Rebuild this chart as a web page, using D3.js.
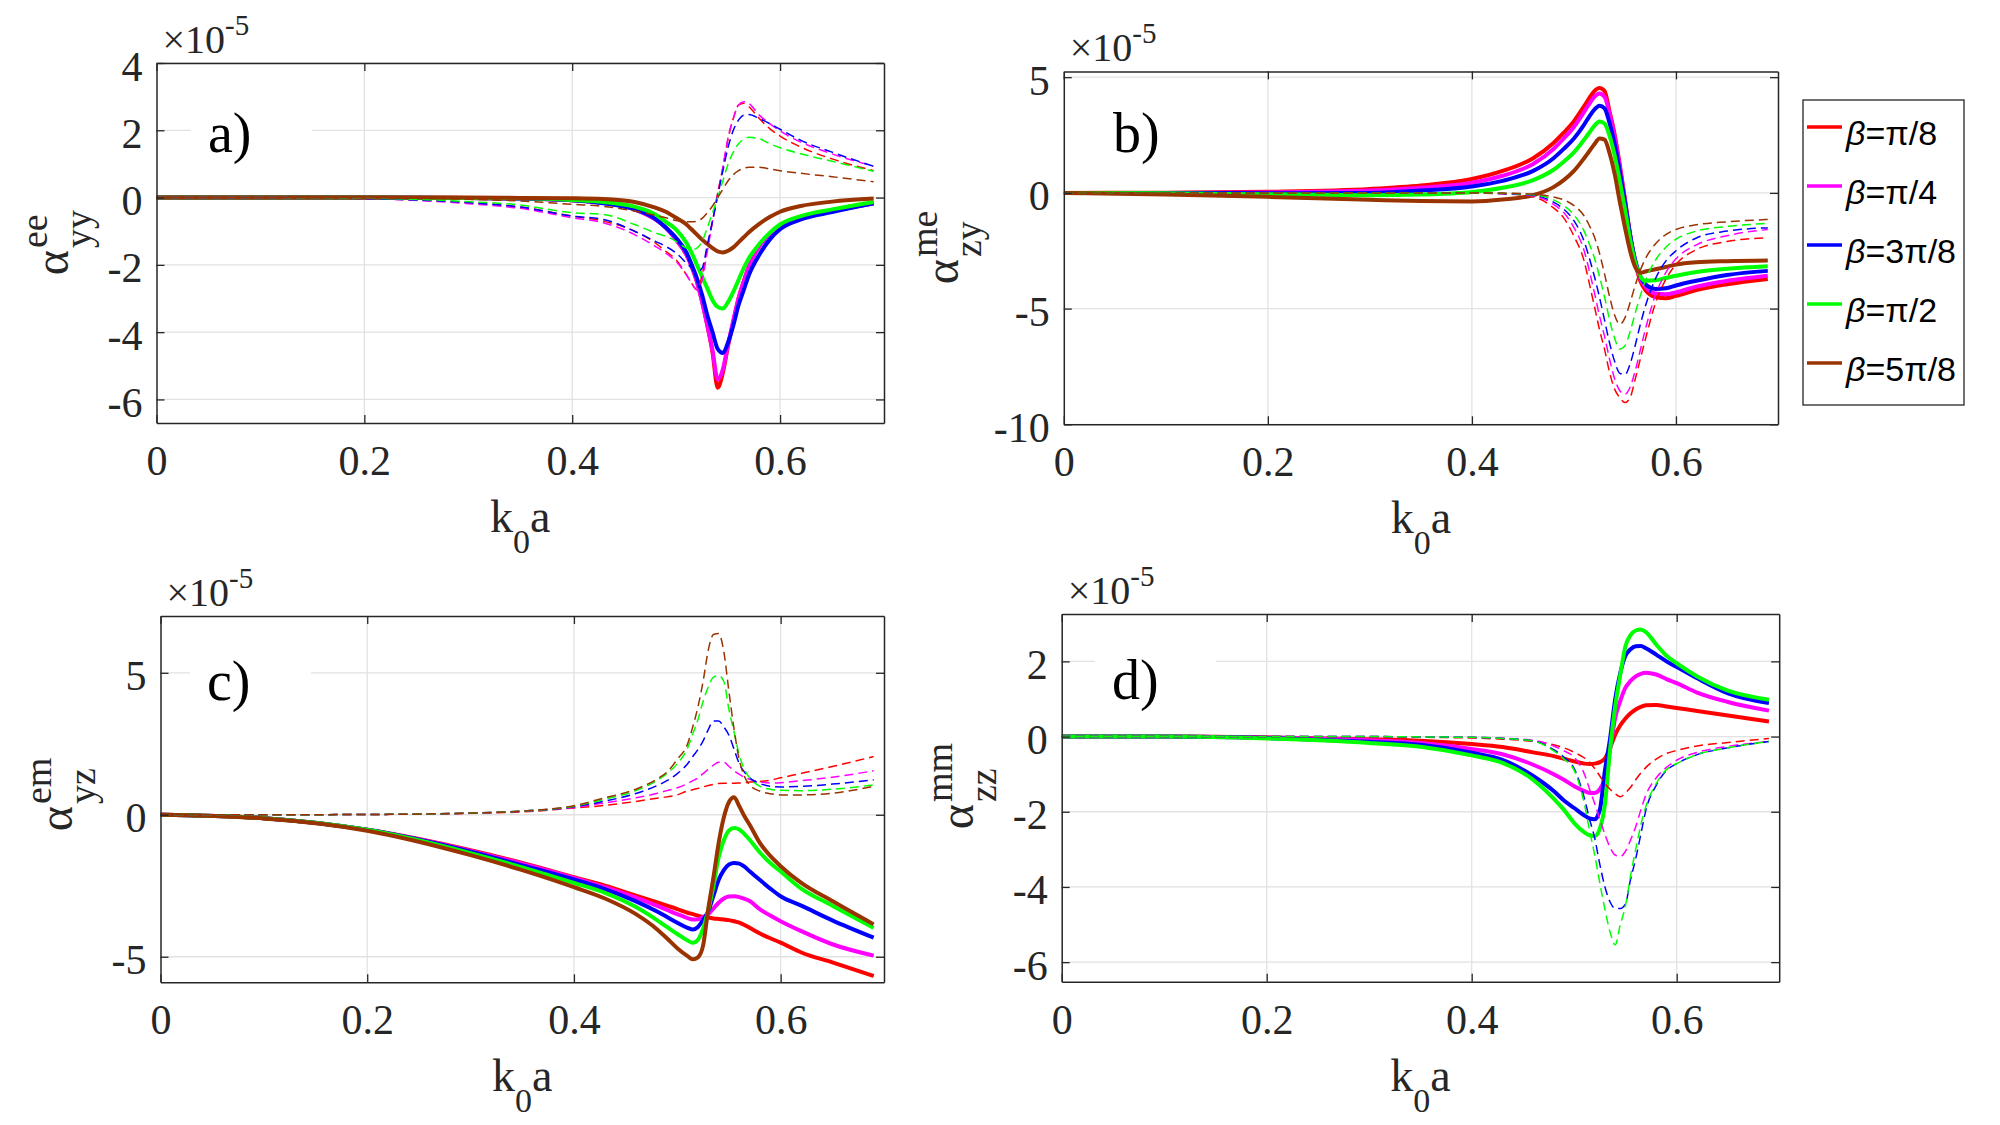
<!DOCTYPE html>
<html>
<head>
<meta charset="utf-8">
<script src="https://cdn.jsdelivr.net/npm/d3@7"></script>
<style>
  body { margin: 0; background: #fff; }
  svg { display: block; }
</style>
</head>
<body>
<div id="chart"></div>
<script>
// k0a sample points, shared by all four panels
const kx = [0, 0.1, 0.2, 0.3, 0.35, 0.4, 0.43, 0.46, 0.48, 0.49,
            0.5, 0.51, 0.515, 0.52, 0.525, 0.53, 0.535, 0.54, 0.545, 0.55,
            0.555, 0.56, 0.565, 0.57, 0.58, 0.59, 0.6, 0.62, 0.65, 0.69];

const betaLabels = ["π/8", "π/4", "3π/8", "π/2", "5π/8"];
const betaColors = ["#ff0000", "#ff00ff", "#0000ff", "#00ff00", "#993300"];

const xTicks = [0, 0.2, 0.4, 0.6];
const xTickLabels = ["0", "0.2", "0.4", "0.6"];
const yTicksA = [-6, -4, -2, 0, 2, 4];
const yTicksB = [-10, -5, 0, 5];
const yTicksC = [-5, 0, 5];
const yTicksD = [-6, -4, -2, 0, 2];

// a) alpha_yy^ee  (x1e-5), solid = real, dashed = imag; order pi/8 .. 5pi/8
const eeSolid = [
  [0, 0, 0, -0.01, -0.03, -0.08, -0.16, -0.35, -0.65, -0.89, -1.25, -1.7, -2.05, -2.5, -3.1, -3.8, -4.6, -5.65, -5.2, -4.4, -3.7, -3.0, -2.5, -2.05, -1.45, -1.1, -0.89, -0.62, -0.4, -0.17],
  [0, 0, 0, -0.01, -0.03, -0.08, -0.16, -0.35, -0.65, -0.89, -1.25, -1.7, -2.05, -2.5, -3.1, -3.8, -4.55, -5.4, -5.1, -4.35, -3.65, -3.0, -2.5, -2.05, -1.45, -1.1, -0.9, -0.63, -0.41, -0.18],
  [0, 0, 0, -0.01, -0.03, -0.08, -0.17, -0.35, -0.63, -0.89, -1.2, -1.64, -2.0, -2.4, -2.9, -3.5, -4.0, -4.5, -4.62, -4.3, -3.8, -3.2, -2.75, -2.3, -1.7, -1.25, -0.94, -0.65, -0.43, -0.17],
  [0, 0, 0, -0.01, -0.02, -0.07, -0.13, -0.27, -0.5, -0.72, -0.95, -1.35, -1.65, -2.0, -2.35, -2.7, -3.05, -3.25, -3.3, -3.1, -2.8, -2.45, -2.1, -1.8, -1.38, -1.05, -0.8, -0.55, -0.35, -0.13],
  [0, 0, 0, 0, -0.01, -0.02, -0.04, -0.13, -0.3, -0.42, -0.6, -0.8, -0.95, -1.1, -1.25, -1.38, -1.5, -1.6, -1.63, -1.58, -1.48, -1.33, -1.18, -1.03, -0.78, -0.58, -0.42, -0.25, -0.12, -0.03]
];
const eeDashed = [
  [0, 0, -0.03, -0.15, -0.28, -0.55, -0.7, -1.0, -1.35, -1.6, -1.85, -2.3, -2.55, -2.74, -2.3, -1.5, -0.7, 0.15, 0.9, 1.75, 2.35, 2.75, 2.8, 2.7, 2.35, 2.05, 1.83, 1.5, 1.15, 0.8],
  [0, 0, -0.03, -0.18, -0.32, -0.6, -0.75, -1.1, -1.45, -1.65, -1.9, -2.3, -2.55, -2.74, -2.45, -1.6, -0.7, 0.1, 0.9, 1.8, 2.35, 2.75, 2.85, 2.8, 2.45, 2.2, 1.98, 1.65, 1.3, 0.93],
  [0, 0, -0.03, -0.15, -0.28, -0.55, -0.65, -1.0, -1.3, -1.45, -1.65, -1.95, -2.1, -2.2, -2.1, -1.4, -0.7, 0.05, 0.8, 1.5, 2.0, 2.3, 2.45, 2.47, 2.35, 2.2, 2.03, 1.7, 1.35, 0.93],
  [0, 0, -0.02, -0.12, -0.22, -0.45, -0.5, -0.8, -1.05, -1.15, -1.3, -1.5, -1.55, -1.5, -1.3, -0.9, -0.45, 0.0, 0.5, 1.0, 1.35, 1.6, 1.73, 1.79, 1.75, 1.6, 1.48, 1.3, 1.08, 0.78],
  [0, 0, -0.01, -0.05, -0.1, -0.2, -0.26, -0.4, -0.53, -0.6, -0.68, -0.72, -0.72, -0.7, -0.62, -0.45, -0.25, 0.0, 0.25, 0.5, 0.68, 0.8, 0.87, 0.9, 0.9, 0.85, 0.8, 0.72, 0.62, 0.47]
];

// b) alpha_zy^me
const meSolid = [
  [0, 0.01, 0.05, 0.17, 0.32, 0.6, 0.95, 1.5, 2.16, 2.6, 3.1, 3.75, 4.1, 4.4, 4.53, 4.4, 3.5, 2.5, 1.2, -0.3, -1.8, -3.0, -3.8, -4.2, -4.5, -4.55, -4.45, -4.2, -3.95, -3.72],
  [0, 0, 0.02, 0.1, 0.22, 0.44, 0.74, 1.25, 1.9, 2.35, 2.85, 3.5, 3.85, 4.15, 4.3, 4.15, 3.4, 2.4, 1.1, -0.3, -1.8, -2.95, -3.7, -4.05, -4.35, -4.38, -4.3, -4.05, -3.8, -3.58],
  [0, 0, -0.02, 0, 0.1, 0.28, 0.52, 0.95, 1.5, 1.9, 2.35, 2.95, 3.3, 3.6, 3.77, 3.65, 3.0, 2.1, 0.9, -0.4, -1.8, -2.9, -3.6, -3.95, -4.15, -4.12, -4.0, -3.8, -3.55, -3.37],
  [0, -0.02, -0.06, -0.1, -0.07, 0.04, 0.22, 0.55, 1.0, 1.35, 1.75, 2.3, 2.6, 2.9, 3.09, 3.0, 2.45, 1.6, 0.5, -0.7, -2.0, -3.0, -3.6, -3.8, -3.78, -3.68, -3.58, -3.42, -3.28, -3.17],
  [0, -0.07, -0.17, -0.3, -0.35, -0.37, -0.29, -0.1, 0.25, 0.55, 0.95, 1.5, 1.8, 2.1, 2.35, 2.3, 1.7, 0.8, -0.4, -1.5, -2.5, -3.2, -3.45, -3.4, -3.3, -3.2, -3.1, -3.0, -2.95, -2.92]
];
const meDashed = [
  [0, 0, 0, 0, 0, -0.01, -0.04, -0.17, -0.65, -1.08, -1.87, -2.95, -3.9, -4.89, -5.9, -6.76, -7.77, -8.49, -8.85, -9.06, -8.85, -8.06, -7.19, -6.33, -4.75, -3.74, -3.09, -2.45, -2.1, -1.94],
  [0, 0, 0, 0, 0, -0.01, -0.03, -0.13, -0.5, -0.85, -1.5, -2.5, -3.35, -4.3, -5.3, -6.2, -7.2, -8.05, -8.55, -8.7, -8.4, -7.7, -6.8, -5.9, -4.4, -3.45, -2.85, -2.25, -1.85, -1.58],
  [0, 0, 0, 0, 0, -0.01, -0.03, -0.1, -0.4, -0.7, -1.2, -2.1, -2.8, -3.6, -4.5, -5.5, -6.5, -7.3, -7.8, -7.85, -7.4, -6.6, -5.7, -4.9, -3.7, -2.95, -2.5, -1.95, -1.65, -1.51],
  [0, 0, 0, 0, 0, -0.01, -0.02, -0.08, -0.3, -0.55, -0.95, -1.65, -2.2, -2.8, -3.6, -4.5, -5.5, -6.3, -6.75, -6.6, -6.0, -5.2, -4.45, -3.8, -2.9, -2.35, -2.0, -1.65, -1.45, -1.32],
  [0, 0, 0, 0, 0, 0, -0.01, -0.05, -0.18, -0.3, -0.55, -1.0, -1.4, -1.9, -2.6, -3.5, -4.5, -5.3, -5.68, -5.4, -4.75, -4.0, -3.35, -2.85, -2.2, -1.8, -1.58, -1.38, -1.25, -1.15]
];

// c) alpha_yz^em
const emSolid = [
  [0, -0.12, -0.53, -1.25, -1.7, -2.2, -2.5, -2.85, -3.08, -3.2, -3.32, -3.45, -3.5, -3.55, -3.6, -3.62, -3.65, -3.67, -3.69, -3.71, -3.75, -3.8, -3.88, -3.98, -4.18, -4.35, -4.5, -4.85, -5.2, -5.68],
  [0, -0.12, -0.53, -1.27, -1.72, -2.22, -2.55, -2.92, -3.2, -3.35, -3.5, -3.64, -3.69, -3.68, -3.6, -3.5, -3.3, -3.1, -2.95, -2.88, -2.87, -2.9, -2.96, -3.04, -3.33, -3.55, -3.75, -4.1, -4.56, -4.96],
  [0, -0.12, -0.53, -1.3, -1.78, -2.28, -2.62, -3.05, -3.4, -3.6, -3.8, -3.98, -4.04, -3.95, -3.7, -3.4, -2.85, -2.3, -1.95, -1.75, -1.7, -1.72, -1.83, -1.99, -2.3, -2.6, -2.87, -3.2, -3.72, -4.33],
  [0, -0.12, -0.53, -1.35, -1.85, -2.4, -2.75, -3.25, -3.7, -3.95, -4.2, -4.43, -4.51, -4.4, -4.0, -3.35, -2.5, -1.5, -0.9, -0.55, -0.47, -0.52, -0.68, -0.88, -1.33, -1.7, -2.0, -2.6, -3.2, -3.98],
  [0, -0.13, -0.56, -1.42, -1.95, -2.55, -2.95, -3.5, -4.02, -4.35, -4.7, -4.98, -5.09, -5.02, -4.6, -3.3, -2.2, -1.0, -0.1, 0.45, 0.62, 0.3, -0.05, -0.35, -1.0, -1.45, -1.81, -2.4, -3.04, -3.86]
];
const emDashed = [
  [0, 0, 0.01, 0.05, 0.1, 0.24, 0.33, 0.47, 0.58, 0.63, 0.7, 0.84, 0.88, 0.93, 0.98, 1.03, 1.07, 1.1, 1.11, 1.11, 1.11, 1.12, 1.13, 1.15, 1.17, 1.22, 1.3, 1.46, 1.7, 2.05],
  [0, 0, 0.01, 0.06, 0.12, 0.26, 0.42, 0.6, 0.75, 0.85, 0.95, 1.1, 1.2, 1.3, 1.45, 1.6, 1.75, 1.85, 1.85, 1.7, 1.55, 1.42, 1.32, 1.25, 1.16, 1.12, 1.13, 1.2, 1.32, 1.55],
  [0, 0, 0.01, 0.06, 0.13, 0.28, 0.48, 0.75, 1.02, 1.2, 1.45, 1.8, 2.05, 2.3, 2.6, 3.0, 3.3, 3.3, 3.1, 2.8, 2.3, 1.8, 1.5, 1.3, 1.1, 1.0, 0.98, 1.0, 1.08, 1.23],
  [0, 0, 0.01, 0.06, 0.13, 0.3, 0.55, 0.85, 1.2, 1.45, 1.8, 2.35, 2.85, 3.35, 4.0, 4.5, 4.85, 4.9, 4.7, 3.7, 2.9, 2.1, 1.6, 1.3, 1.0, 0.9, 0.86, 0.85, 0.9, 1.05],
  [0, 0, 0.01, 0.06, 0.13, 0.32, 0.6, 0.9, 1.25, 1.5, 1.95, 2.5, 3.1, 3.8, 4.7, 5.8, 6.35, 6.38, 5.75, 4.33, 3.0, 1.93, 1.35, 1.05, 0.83, 0.74, 0.7, 0.7, 0.76, 1.0]
];

// d) alpha_zz^mm (no 5pi/8 curve visible)
const mmSolid = [
  [0, 0, -0.02, -0.07, -0.11, -0.2, -0.28, -0.42, -0.52, -0.59, -0.66, -0.72, -0.73, -0.72, -0.68, -0.58, -0.3, 0.05, 0.3, 0.48, 0.62, 0.72, 0.79, 0.83, 0.84, 0.8, 0.76, 0.68, 0.56, 0.4],
  [0, 0, -0.03, -0.1, -0.17, -0.33, -0.47, -0.75, -1.0, -1.15, -1.32, -1.45, -1.5, -1.5, -1.4, -1.1, -0.35, 0.5, 0.95, 1.3, 1.48, 1.6, 1.67, 1.7, 1.65, 1.53, 1.42, 1.17, 0.92, 0.69],
  [0, 0, -0.04, -0.14, -0.22, -0.43, -0.62, -1.05, -1.45, -1.7, -1.9, -2.1, -2.18, -2.2, -1.95, -0.9, -0.05, 1.0, 1.7, 2.15, 2.32, 2.4, 2.41, 2.35, 2.18, 2.0, 1.85, 1.55, 1.15, 0.89],
  [0, 0, -0.05, -0.17, -0.27, -0.5, -0.7, -1.15, -1.65, -1.95, -2.3, -2.55, -2.63, -2.65, -2.45, -1.8, -0.35, 0.8, 1.65, 2.4, 2.7, 2.82, 2.85, 2.78, 2.45, 2.15, 1.95, 1.6, 1.22, 0.98]
];
const mmDashed = [
  [0, 0, 0, -0.01, -0.02, -0.04, -0.07, -0.13, -0.22, -0.3, -0.42, -0.57, -0.68, -0.85, -1.05, -1.25, -1.4, -1.52, -1.6, -1.5, -1.35, -1.15, -0.97, -0.82, -0.6, -0.45, -0.37, -0.25, -0.16, -0.05],
  [0, 0, 0, 0, -0.01, -0.02, -0.04, -0.1, -0.25, -0.38, -0.55, -1.0, -1.4, -1.78, -2.2, -2.6, -2.95, -3.15, -3.19, -3.05, -2.75, -2.4, -1.95, -1.55, -1.1, -0.82, -0.63, -0.42, -0.26, -0.13],
  [0, 0, 0, 0, -0.01, -0.02, -0.05, -0.12, -0.35, -0.55, -0.85, -1.65, -2.2, -2.7, -3.4, -4.0, -4.4, -4.57, -4.57, -4.45, -3.8, -3.25, -2.6, -1.95, -1.3, -0.9, -0.72, -0.48, -0.3, -0.13],
  [0, 0, 0, 0, -0.01, -0.02, -0.05, -0.12, -0.38, -0.6, -0.9, -1.8, -2.5, -3.15, -3.9, -4.6, -5.2, -5.54, -5.0, -4.5, -3.7, -3.0, -2.35, -1.85, -1.25, -0.88, -0.72, -0.48, -0.3, -0.13]
];

// panel layout: box = [left, top, right, bottom] in px
const panels = [
  { tag: "a)", box: [156.5, 63, 884, 423], yDomain: [-6.7, 4], yTicks: yTicksA,
    solid: eeSolid, dashed: eeDashed, sup: "ee", sub: "yy", ylab: [68, 250], tagPos: [208, 152] },
  { tag: "b)", box: [1063.8, 71.4, 1778, 424.3], yDomain: [-10, 5.25], yTicks: yTicksB,
    solid: meSolid, dashed: meDashed, sup: "me", sub: "zy", ylab: [958, 259], tagPos: [1113, 152] },
  { tag: "c)", box: [160.5, 616, 884, 982.3], yDomain: [-5.9, 7], yTicks: yTicksC,
    solid: emSolid, dashed: emDashed, sup: "em", sub: "yz", ylab: [72, 806], tagPos: [207, 700] },
  { tag: "d)", box: [1061.7, 614, 1779.2, 981.7], yDomain: [-6.52, 3.26], yTicks: yTicksD,
    solid: mmSolid, dashed: mmDashed, sup: "mm", sub: "zz", ylab: [973, 804], tagPos: [1112, 699] }
];

const serif = "'Liberation Serif', 'Times New Roman', serif";
const axisColor = "#262626";
const gridColor = "#e2e2e2";

const svg = d3.select("#chart").append("svg")
    .attr("width", 2000)
    .attr("height", 1125)
    .style("background", "#fff")
    .style("font-family", serif);

panels.forEach((p, pi) => {
    const [x0, y0, x1, y1] = p.box;
    const x = d3.scaleLinear().domain([0, 0.7]).range([x0, x1]);
    const y = d3.scaleLinear().domain(p.yDomain).range([y1, y0]);
    const g = svg.append("g");

    svg.append("clipPath").attr("id", "clip" + pi)
        .append("rect")
        .attr("x", x0).attr("y", y0)
        .attr("width", x1 - x0).attr("height", y1 - y0);

    // grid
    g.append("g").selectAll("line")
        .data(xTicks.filter(d => d > 0))
        .join("line")
        .attr("x1", d => x(d)).attr("x2", d => x(d))
        .attr("y1", y0).attr("y2", y1)
        .attr("stroke", gridColor).attr("stroke-width", 1.3);
    g.append("g").selectAll("line")
        .data(p.yTicks)
        .join("line")
        .attr("x1", x0).attr("x2", x1)
        .attr("y1", d => y(d)).attr("y2", d => y(d))
        .attr("stroke", gridColor).attr("stroke-width", 1.3);

    // curves
    const line = d3.line()
        .x((d, i) => x(kx[i]))
        .y(d => y(d))
        .curve(d3.curveMonotoneX);

    const curves = g.append("g").attr("clip-path", `url(#clip${pi})`);
    p.solid.forEach((s, i) => {
        curves.append("path")
            .attr("d", line(s))
            .attr("fill", "none")
            .attr("stroke", betaColors[i])
            .attr("stroke-width", 4)
            .attr("stroke-linejoin", "round");
    });
    p.dashed.forEach((s, i) => {
        curves.append("path")
            .attr("d", line(s))
            .attr("fill", "none")
            .attr("stroke", betaColors[i])
            .attr("stroke-width", 1.5)
            .attr("stroke-dasharray", "9,5");
    });

    // axes, ticks inward on all four sides
    const styleAxis = sel => {
        sel.attr("font-family", serif).attr("font-size", null);
        sel.select(".domain").attr("stroke", axisColor).attr("stroke-width", 1.5);
        sel.selectAll(".tick line").attr("stroke", axisColor).attr("stroke-width", 1.3);
    };

    g.append("g")
        .attr("transform", `translate(0,${y1})`)
        .call(d3.axisBottom(x).tickValues(xTicks).tickFormat((d, i) => xTickLabels[i])
            .tickSizeInner(-8).tickSizeOuter(0))
        .call(styleAxis)
        .call(a => a.selectAll(".tick text")
            .attr("y", 52).attr("dy", null)
            .style("font-family", serif)
            .attr("font-size", 42).attr("fill", axisColor));

    g.append("g")
        .attr("transform", `translate(0,${y0})`)
        .call(d3.axisTop(x).tickValues(xTicks).tickFormat("").tickSizeInner(-8).tickSizeOuter(0))
        .call(styleAxis);

    g.append("g")
        .attr("transform", `translate(${x0},0)`)
        .call(d3.axisLeft(y).tickValues(p.yTicks).tickFormat(d => String(d))
            .tickSizeInner(-8).tickSizeOuter(0).tickPadding(14))
        .call(styleAxis)
        .call(a => a.selectAll(".tick text")
            .attr("dy", 17)
            .style("font-family", serif)
            .attr("font-size", 42).attr("fill", axisColor));

    g.append("g")
        .attr("transform", `translate(${x1},0)`)
        .call(d3.axisRight(y).tickValues(p.yTicks).tickFormat("").tickSizeInner(-8).tickSizeOuter(0))
        .call(styleAxis);

    // exponent
    const mult = g.append("text")
        .attr("x", x0 + 6).attr("y", y0 - 10)
        .style("font-family", serif)
        .attr("font-size", 40).attr("fill", axisColor);
    mult.append("tspan").text("×10");
    mult.append("tspan").attr("font-size", 29).attr("dy", -18).text("-5");

    // x label
    const xl = g.append("text")
        .attr("x", (x0 + x1) / 2).attr("y", y1 + 109)
        .attr("text-anchor", "middle")
        .style("font-family", serif)
        .attr("font-size", 46).attr("fill", axisColor);
    xl.append("tspan").text("k");
    xl.append("tspan").attr("font-size", 34).attr("dy", 21).text("0");
    xl.append("tspan").attr("dy", -21).text("a");

    // y label
    const yl = g.append("g")
        .attr("transform", `translate(${p.ylab[0]},${p.ylab[1]}) rotate(-90)`)
        .attr("fill", axisColor)
        .style("font-family", serif);
    yl.append("text").attr("text-anchor", "end").attr("font-size", 48).text("α");
    yl.append("text").attr("x", 2).attr("y", -21).attr("font-size", 38).text(p.sup);
    yl.append("text").attr("x", 2).attr("y", 23).attr("font-size", 38).text(p.sub);

    // panel tag with white box
    const [tx, ty] = p.tagPos;
    g.append("rect")
        .attr("x", tx - 17).attr("y", ty - 55)
        .attr("width", 121).attr("height", 70)
        .attr("fill", "#fff");
    g.append("text")
        .attr("x", tx).attr("y", ty)
        .style("font-family", serif)
        .attr("font-size", 56).attr("fill", "#000")
        .text(p.tag);
});

// legend
const legend = svg.append("g");
legend.append("rect")
    .attr("x", 1803).attr("y", 100)
    .attr("width", 161).attr("height", 305)
    .attr("fill", "#fff")
    .attr("stroke", axisColor).attr("stroke-width", 1.3);

const rows = legend.selectAll("g.row")
    .data(betaLabels)
    .join("g")
    .attr("class", "row")
    .attr("transform", (d, i) => `translate(0,${127 + i * 59})`);

rows.append("line")
    .attr("x1", 1807).attr("x2", 1842)
    .attr("stroke", (d, i) => betaColors[i])
    .attr("stroke-width", 3.5);

const rowText = rows.append("text")
    .attr("x", 1846).attr("y", 18)
    .attr("font-size", 34)
    .attr("fill", "#000")
    .style("font-family", "'Liberation Sans', Arial, sans-serif");
rowText.append("tspan").attr("font-style", "italic").text("β");
rowText.append("tspan").text(d => "=" + d);
</script>
</body>
</html>
